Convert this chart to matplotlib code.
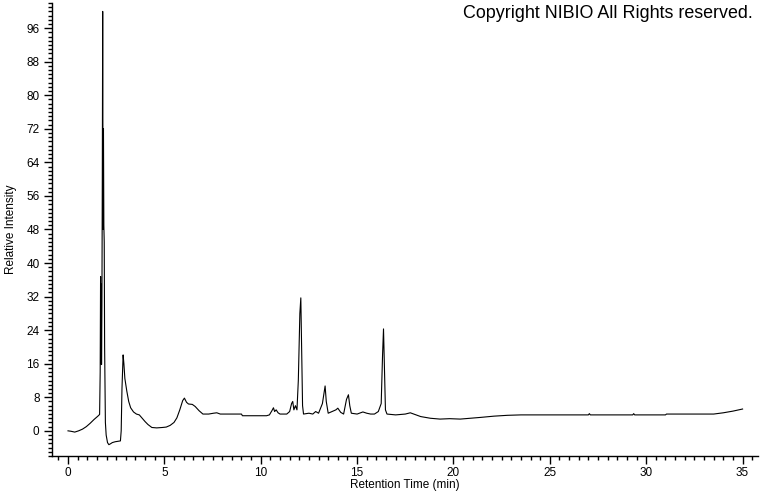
import numpy as np
import matplotlib
matplotlib.use('Agg')
import matplotlib.pyplot as plt
from matplotlib.ticker import MultipleLocator

plt.rcParams['font.family'] = ['Liberation Sans', 'DejaVu Sans']

# 保持时间 (min) 与相对强度
rt = [0.0, 0.15, 0.35, 0.55, 0.75, 0.95, 1.15, 1.35, 1.55, 1.64,
      1.67, 1.69, 1.70, 1.71, 1.72, 1.73, 1.74, 1.76, 1.78, 1.80,
      1.82, 1.84, 1.86, 1.88, 1.90, 1.94, 1.98, 2.05, 2.12, 2.20,
      2.30, 2.45, 2.60, 2.72, 2.76, 2.80, 2.86, 2.90, 2.95, 3.05,
      3.15, 3.25, 3.40, 3.55, 3.70, 3.85, 4.00, 4.15, 4.35, 4.60,
      4.90, 5.10, 5.30, 5.50, 5.65, 5.80, 5.95, 6.04, 6.15, 6.25,
      6.45, 6.60, 6.80, 7.00, 7.30, 7.55, 7.72, 7.90, 8.50, 9.00,
      9.05, 10.30, 10.45, 10.58, 10.66, 10.72, 10.80, 10.90, 11.00, 11.35,
      11.50, 11.60, 11.66, 11.72, 11.80, 11.88, 11.95, 12.03, 12.08, 12.12,
      12.17, 12.22, 12.50, 12.70, 12.85, 13.00, 13.20, 13.34, 13.40, 13.50,
      13.70, 13.90, 14.00, 14.15, 14.30, 14.45, 14.55, 14.62, 14.70, 15.00,
      15.30, 15.50, 15.70, 15.90, 16.10, 16.25, 16.32, 16.37, 16.42, 16.47,
      16.55, 17.00, 17.50, 17.76, 18.00, 18.30, 18.80, 19.30, 19.80, 20.35,
      20.90, 21.40, 22.10, 22.80, 23.50, 24.00, 27.00, 27.05, 27.10, 29.30,
      29.35, 29.40, 31.00, 31.05, 33.50, 34.00, 34.50, 35.00]
intensity = [0.0, -0.1, -0.3, 0.0, 0.4, 1.0, 1.8, 2.7, 3.5, 3.9,
             14.0, 36.8, 16.0, 35.0, 17.0, 34.0, 15.8, 30.0, 60.0, 100.0,
             48.0, 72.0, 49.0, 45.0, 20.0, 2.0, -1.0, -2.8, -3.3, -3.1,
             -2.8, -2.6, -2.5, -2.4, 0.0, 10.0, 18.1, 16.0, 12.5, 9.5,
             7.0, 5.5, 4.5, 4.0, 3.8, 3.0, 2.2, 1.5, 0.8, 0.7,
             0.8, 0.9, 1.3, 2.0, 3.1, 5.0, 7.2, 7.8, 6.8, 6.4,
             6.3, 5.8, 4.8, 4.0, 4.0, 4.2, 4.3, 4.0, 4.0, 4.0,
             3.6, 3.6, 3.8, 4.8, 5.5, 4.6, 5.0, 4.3, 4.0, 4.0,
             4.6, 6.5, 7.0, 5.0, 6.0, 5.0, 12.0, 28.0, 31.7, 20.0,
             6.0, 4.0, 4.2, 4.0, 4.6, 4.2, 6.5, 10.7, 7.0, 4.2,
             4.6, 5.0, 5.4, 4.4, 4.0, 7.5, 8.6, 6.0, 4.2, 4.0,
             4.5, 4.2, 4.0, 4.0, 4.6, 6.5, 18.0, 24.3, 15.0, 5.0,
             4.0, 3.8, 4.0, 4.3, 3.9, 3.4, 3.0, 2.8, 2.9, 2.8,
             3.0, 3.2, 3.5, 3.7, 3.8, 3.8, 3.8, 4.1, 3.8, 3.8,
             4.1, 3.8, 3.8, 4.0, 4.0, 4.3, 4.7, 5.2]

fig = plt.figure(figsize=(7.6, 4.92), dpi=100)
ax = fig.add_axes([52 / 760, 36 / 492, 706 / 760, 453 / 492])

ax.plot(rt, intensity, color='black', linewidth=0.8)

ax.set_xlim(-0.83, 35.8)
ax.set_ylim(-6, 102)

ax.xaxis.set_major_locator(MultipleLocator(5))
ax.xaxis.set_minor_locator(MultipleLocator(0.5))
ax.yaxis.set_major_locator(MultipleLocator(8))
ax.yaxis.set_minor_locator(MultipleLocator(1))

ax.spines['top'].set_visible(False)
ax.spines['right'].set_visible(False)
ax.spines['left'].set_linewidth(1.0)
ax.spines['bottom'].set_linewidth(1.0)

ax.tick_params(axis='both', which='major', length=6, width=1, labelsize=8.5, pad=3)
ax.tick_params(axis='both', which='minor', length=3, width=1)
ax.tick_params(axis='x', which='major', pad=2)

ax.set_xlabel('Retention Time (min)', fontsize=8.5, labelpad=0)
ax.set_ylabel('Relative Intensity', fontsize=8.5, labelpad=7)

fig.text(753 / 760, 1 - 14 / 492, 'Copyright NIBIO All Rights reserved.',
         ha='right', va='center', fontsize=12.9)

plt.savefig('out.png', dpi=100)
